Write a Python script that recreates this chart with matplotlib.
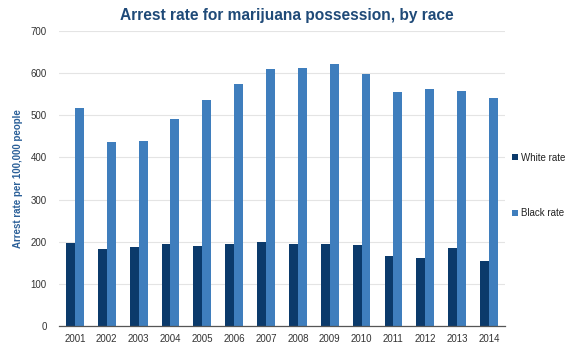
import matplotlib
matplotlib.use("Agg")
import matplotlib.pyplot as plt
import numpy as np

years = ["2001", "2002", "2003", "2004", "2005", "2006", "2007",
         "2008", "2009", "2010", "2011", "2012", "2013", "2014"]
white_rate = [196, 182, 188, 194, 189, 194, 200, 195, 195, 192, 165, 162, 184, 155]
black_rate = [518, 436, 439, 492, 536, 574, 609, 612, 621, 598, 556, 563, 557, 542]
y_ticks = [0, 100, 200, 300, 400, 500, 600, 700]

plt.rcParams['font.family'] = ['Liberation Sans', 'DejaVu Sans']

fig = plt.figure(figsize=(5.68, 3.45), dpi=100)
ax = fig.add_axes([0.1039, 0.0551, 0.785, 0.855])

x = np.arange(len(years))
w = 0.28
ax.bar(x - w / 2, white_rate, width=w, color="#0b3a6b", label="White rate", zorder=3)
ax.bar(x + w / 2, black_rate, width=w, color="#3f7ebd", label="Black rate", zorder=3)

ax.set_xlim(-0.5, len(years) - 0.5)
ax.set_ylim(0, 700)
ax.set_yticks(y_ticks)
ax.set_xticks(x)
ax.set_xticklabels(years)
ax.tick_params(axis="both", length=0, labelsize=7, colors="#333333")
ax.tick_params(axis="y", pad=9)
ax.tick_params(axis="x", pad=6)
ax.grid(axis="y", color="#e4e4e4", linewidth=0.8, zorder=0)
for side in ["top", "right", "left"]:
    ax.spines[side].set_visible(False)
ax.spines["bottom"].set_color("#555555")
ax.spines["bottom"].set_linewidth(0.9)
ax.spines["bottom"].set_zorder(4)

ax.set_ylabel("Arrest rate per 100,000 people", fontsize=7, fontweight="bold",
              color="#2a5f98", labelpad=5)

fig.text(0.505, 0.955, "Arrest rate for marijuana possession, by race",
         ha="center", va="center", fontsize=11.2, fontweight="bold", color="#1f4a78")

fig.legend(loc="center left", bbox_to_anchor=(0.895, 0.462), frameon=False,
           fontsize=7, labelspacing=4.7, handlelength=0.6, handleheight=0.6,
           handletextpad=0.3, borderaxespad=0, labelcolor="#222222")

fig.savefig("out.png", dpi=100)
